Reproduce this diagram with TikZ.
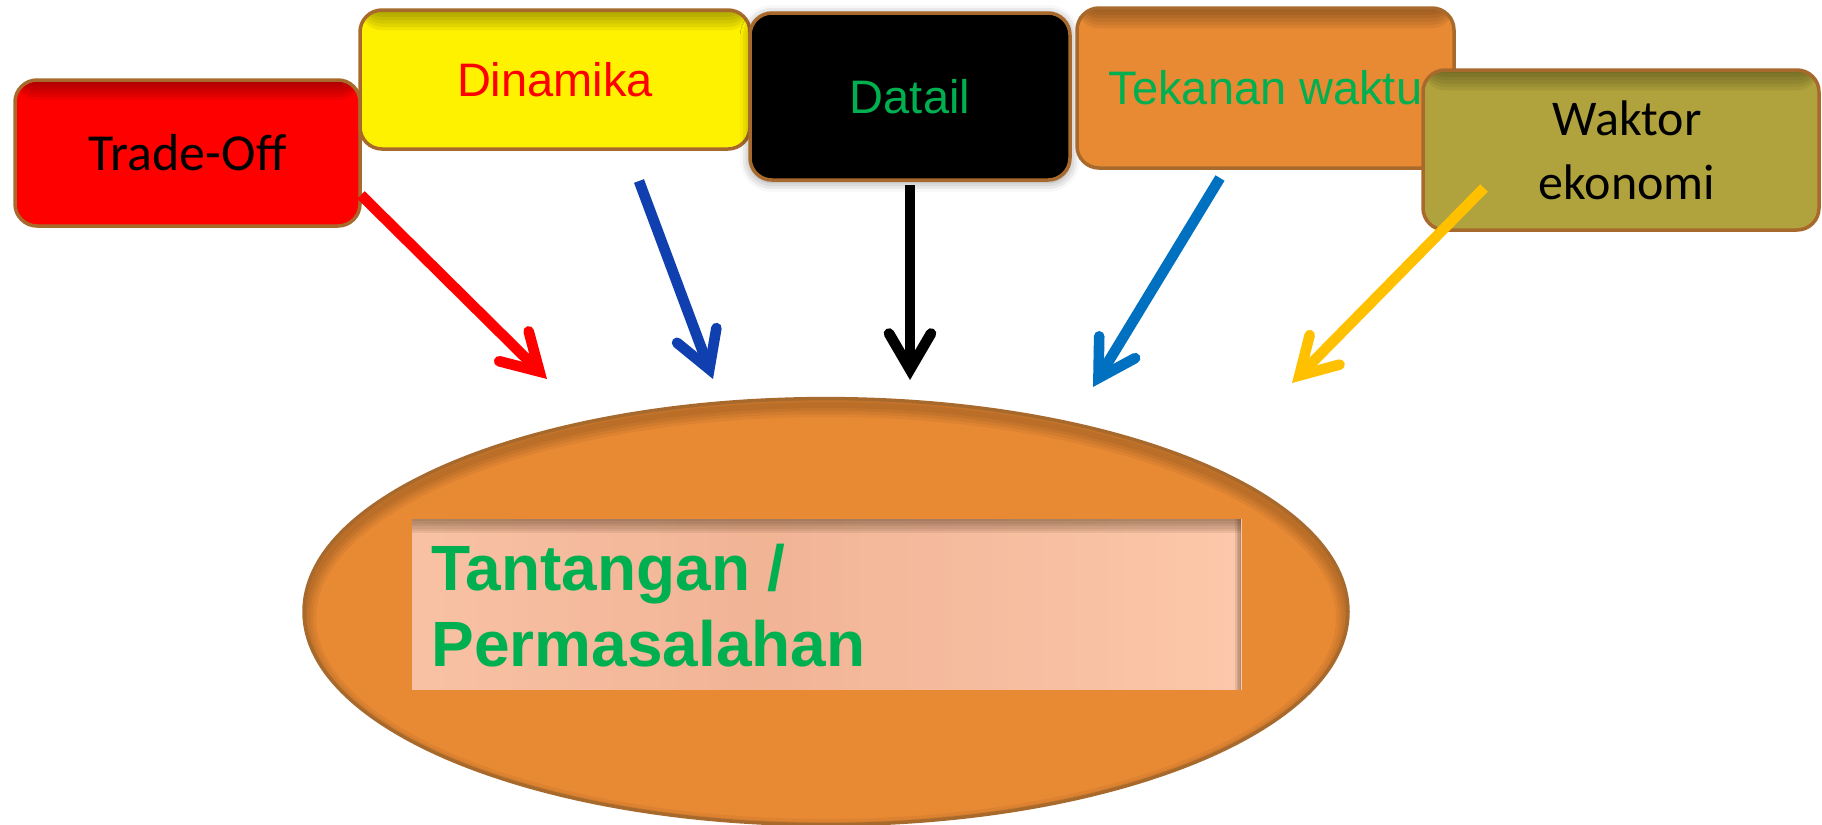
\documentclass[tikz,border=0pt]{standalone}
\usepackage{fontspec}
\setmainfont{Liberation Sans}
\newfontfamily\carlito{Carlito}
\usetikzlibrary{arrows.meta,shapes.geometric,shadows.blur}
\definecolor{brd}{HTML}{A86A2C}
\definecolor{org}{HTML}{E88A34}
\definecolor{olivebox}{HTML}{B0A23C}
\definecolor{grn}{HTML}{00B050}
\definecolor{dblue}{HTML}{103FAF}
\definecolor{mblue}{HTML}{0070C0}
\definecolor{gold}{HTML}{FFC000}
\definecolor{peachA}{HTML}{FCC7AA}
\definecolor{peachB}{HTML}{F1B395}
\tikzset{
  box/.style={draw=brd, line width=1.75pt, rounded corners=11pt, inner sep=0pt, fill=#1,
    path picture={\foreach \k in {1,...,6}{\fill[black, opacity=0.06]
      (path picture bounding box.north west) rectangle ([yshift=-\k*1.7pt]path picture bounding box.north east);}}},
  arial/.style={font=\fontsize{23.5}{28}\selectfont},
  cal/.style={font=\carlito\fontsize{26}{32}\selectfont},
  arr/.style={line width=5.3pt, -{Straight Barb[length=18pt,width=21pt,line cap=round,line join=miter]}},
  bigtext/.style={anchor=base west, inner sep=0pt, text=grn, font=\bfseries\fontsize{32}{39}\selectfont}
}
\begin{document}
\begin{tikzpicture}[x=0.5pt,y=-0.5pt]
\useasboundingbox (0,0) rectangle (1822,825);
% boxes
\node[box=red, minimum width=172.5pt, minimum height=73pt, cal] (trade) at (187.5,153) {Trade-Off};
\node[box=yellow, minimum width=195pt, minimum height=69.5pt, arial, text=red] (dina) at (555,79.5) {Dinamika};
\node[box=black, minimum width=160pt, minimum height=83.5pt, arial, text=grn,
  blur shadow={shadow xshift=0pt, shadow yshift=-1pt, shadow blur radius=5pt, shadow opacity=45}] (datail) at (910,96.5) {Datail};
\node[box=org, minimum width=188.5pt, minimum height=80pt, arial, text=grn] (tekanan) at (1265.5,88) {Tekanan waktu};
\node[box=olivebox, minimum width=198pt, minimum height=80pt, align=center,
  font=\carlito\fontsize{25}{32}\selectfont] (waktor) at (1621,150) {\hspace*{6pt}Waktor\\\hspace*{6pt}ekonomi};
% ellipse
\node[ellipse, fill=org, minimum width=522pt, minimum height=213pt, inner sep=0pt] (goal) at (826,612) {};
\begin{scope}
  \clip (826,612) ellipse [x radius=261pt, y radius=106.5pt];
  \foreach \w in {3,6,9,12}{\draw[black, opacity=0.05, line width=\w pt] (826,618) ellipse [x radius=261pt, y radius=106.5pt];}
\end{scope}
\draw[brd, line width=1.75pt] (goal.north) arc[start angle=90, end angle=450, x radius=261pt, y radius=106.5pt];
% inner rectangle
\node[rectangle, inner sep=0pt, minimum width=414.5pt, minimum height=85.5pt] (panel) at (826.5,604.5) {};
\foreach \i in {0,...,49}{
  \pgfmathtruncatemacro{\p}{max(0,100*(1-abs((\i+0.5)/50-0.42)/0.58))}
  \fill[peachB!\p!peachA] ({412+\i*16.58},519) rectangle ({412+(\i+1)*16.58+0.8},690);
}
\foreach \k in {1,...,6}{\fill[black!60!brown, opacity=0.09] (412,519) rectangle (1241,{519+\k*2.4});}
\foreach \k in {1,...,4}{\fill[black!60!brown, opacity=0.12] ({1241-\k*1.5},519) rectangle (1241,690);}
\node[bigtext] (t1) at (431,590) {Tantangan /};
\node[bigtext] (t2) at (431,666) {Permasalahan};
% arrows
\coordinate (r0) at (361,195); \coordinate (r1) at (547,379);
\coordinate (b0) at (639,181); \coordinate (b1) at (713,379);
\coordinate (k0) at (910,185); \coordinate (k1) at (910,380);
\coordinate (m0) at (1220,178); \coordinate (m1) at (1093,387);
\coordinate (y0) at (1484,188); \coordinate (y1) at (1292,383);
\draw[arr, red] (r0) -- (r1);
\draw[arr, dblue] (b0) -- (b1);
\draw[arr, black] (k0) -- (k1);
\draw[arr, mblue] (m0) -- (m1);
\draw[arr, gold] (y0) -- (y1);
\end{tikzpicture}
\end{document}
